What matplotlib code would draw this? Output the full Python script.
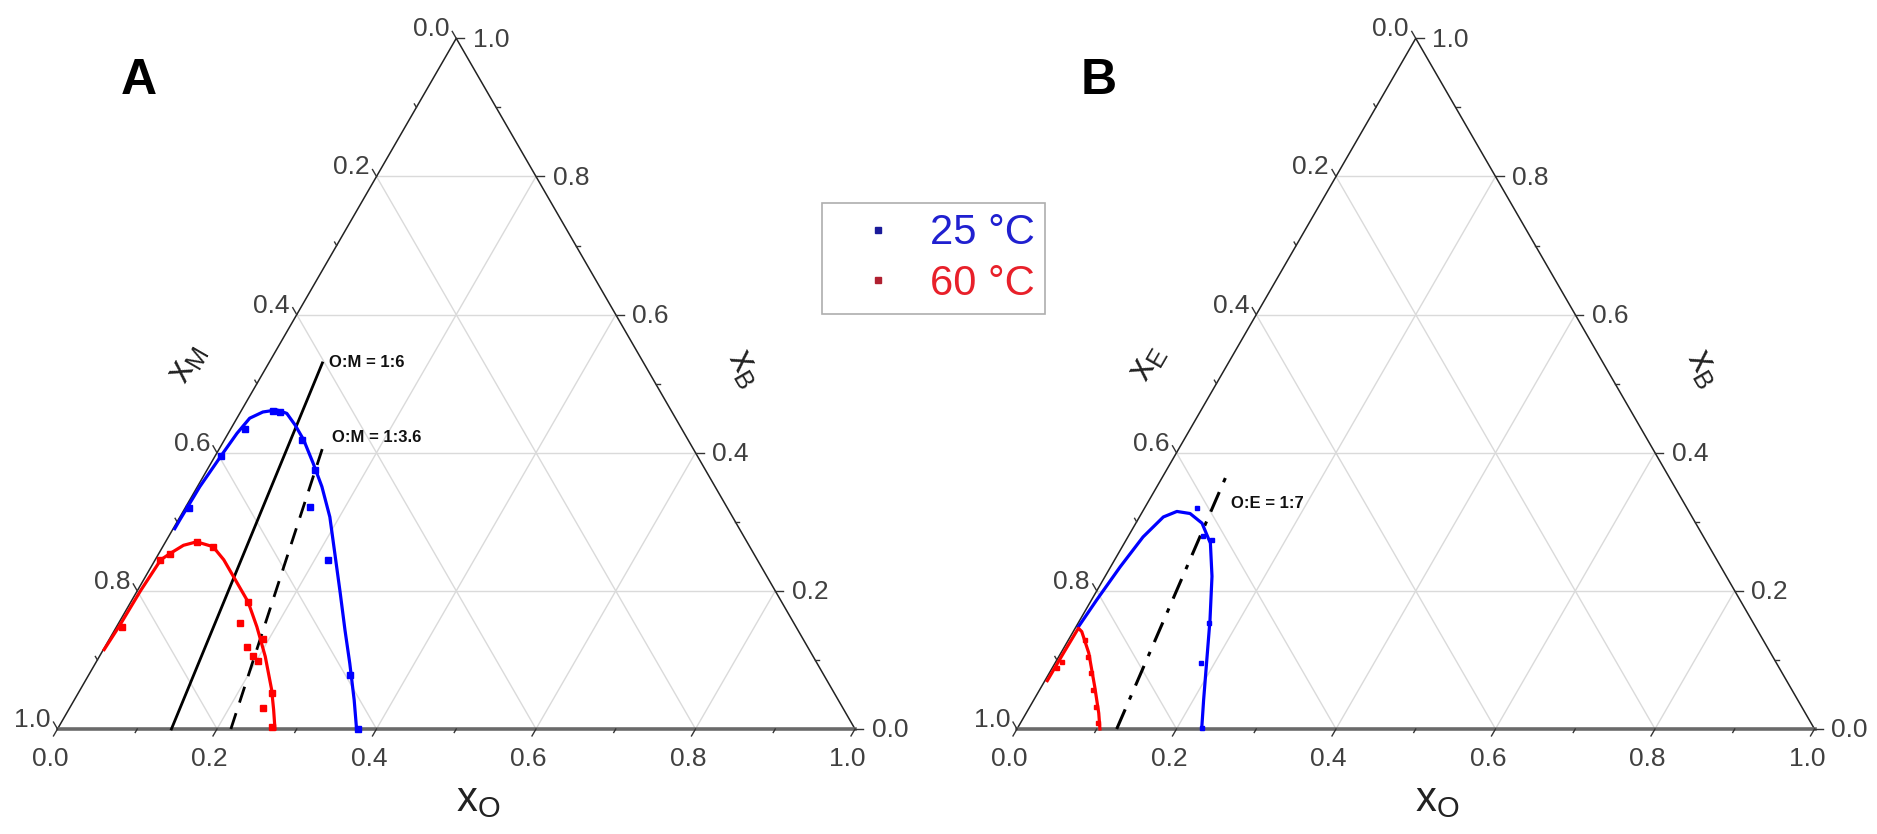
import numpy as np
import matplotlib.pyplot as plt
from matplotlib.lines import Line2D

plt.rcParams['font.family'] = ['Liberation Sans', 'DejaVu Sans']
plt.rcParams['mathtext.fontset'] = 'custom'
plt.rcParams['mathtext.rm'] = 'Liberation Sans'

SQ = np.sqrt(3) / 2
S = 797.5  # pixels per unit of triangle side

# ---------------- data (mole fractions: x_O, x_B ; third = 1 - x_O - x_B)
# panel A: octanoic acid (O) / menthol (M) / B
a25_curve_xo = [0.002, 0.002, 0.003, 0.0075, 0.011, 0.016, 0.028, 0.044, 0.059, 0.078,
                0.099, 0.128, 0.156, 0.188, 0.222, 0.256, 0.289, 0.319, 0.351, 0.375]
a25_curve_xb = [0.290, 0.303, 0.351, 0.397, 0.428, 0.450, 0.459, 0.462, 0.457, 0.440,
                0.419, 0.385, 0.351, 0.307, 0.252, 0.197, 0.143, 0.095, 0.042, 0.0]
a25_pts_xo = [0.005, 0.008, 0.017, 0.040, 0.050, 0.098, 0.135, 0.155, 0.217, 0.328, 0.377]
a25_pts_xb = [0.320, 0.395, 0.435, 0.460, 0.459, 0.418, 0.375, 0.322, 0.245, 0.078, 0.0]

a60_curve_xo = [0.001, 0.003, 0.004, 0.007, 0.014, 0.025, 0.039, 0.063, 0.086, 0.115,
                0.147, 0.176, 0.208, 0.240, 0.257, 0.2727]
a60_curve_xb = [0.115, 0.150, 0.200, 0.245, 0.254, 0.266, 0.271, 0.264, 0.245, 0.216,
                0.184, 0.148, 0.105, 0.057, 0.028, 0.0]
a60_pts_xo = [0.0065, 0.006, 0.014, 0.039, 0.063, 0.147, 0.152, 0.178, 0.192, 0.193,
              0.203, 0.243, 0.243, 0.268]
a60_pts_xb = [0.148, 0.245, 0.254, 0.271, 0.264, 0.184, 0.153, 0.119, 0.131, 0.105,
              0.098, 0.052, 0.030, 0.003]

# panel B: octanoic acid (O) / E / B
b25_curve_xo = [0.003, 0.0065, 0.012, 0.019, 0.030, 0.043, 0.061, 0.083, 0.108, 0.134,
                0.163, 0.188, 0.213, 0.2316]
b25_curve_xb = [0.148, 0.187, 0.235, 0.278, 0.307, 0.315, 0.312, 0.298, 0.269, 0.221,
                0.158, 0.100, 0.042, 0.0]
b25_pts_xo = [0.0656, 0.0931, 0.1073, 0.1647, 0.1828, 0.2314]
b25_pts_xb = [0.3195, 0.2795, 0.2737, 0.1530, 0.0951, 0.001]

b60_curve_xo = [0.003, 0.0033, 0.004, 0.0107, 0.035, 0.067, 0.091, 0.104]
b60_curve_xb = [0.070, 0.110, 0.146, 0.141, 0.110, 0.061, 0.023, 0.0]
b60_pts_xo = [0.0058, 0.0074, 0.0208, 0.0371, 0.0525, 0.0674, 0.0829, 0.0975]
b60_pts_xb = [0.0879, 0.0975, 0.1289, 0.1047, 0.0806, 0.0565, 0.0323, 0.0082]

# constant-ratio lines: (label, O part, other part, x_B at top end, style)
ratio_lines_a = [("O:M = 1:6", 1, 6, 0.53, '-'), ("O:M = 1:3.6", 1, 3.6, 0.406, '--')]
ratio_lines_b = [("O:E = 1:7", 1, 7, 0.365, '-.')]

ticks = [0.0, 0.2, 0.4, 0.6, 0.8, 1.0]
minor = [0.1, 0.3, 0.5, 0.7, 0.9]

BLUE = '#0000ff'
RED = '#ff0000'
TICKC = '#404040'


def tern(xo, xb):
    xo = np.asarray(xo, float)
    xb = np.asarray(xb, float)
    return xo + 0.5 * xb, SQ * xb


def setup(ax, left_px, width_px, origin_px):
    ax.set_position([left_px / 1877, 0, width_px / 1877, 1])
    ax.set_xlim((left_px - origin_px) / S, (left_px + width_px - origin_px) / S)
    ax.set_ylim(-(834 - 729) / S, 729 / S)
    ax.axis('off')


def frame(ax, left_name):
    # grid
    for g in [0.2, 0.4, 0.6, 0.8]:
        for (a, b) in [((0, g), (1 - g, g)), ((g, 0), (g, 1 - g)), ((1 - g, 0), (0, 1 - g))]:
            u, v = tern([a[0], b[0]], [a[1], b[1]])
            ax.plot(u, v, color='#dadada', lw=1.0, zorder=1)
    # edges
    ax.plot([0, 0.5, 1], [0, SQ, 0], color='#222222', lw=1.1, zorder=2)
    ax.plot([0, 1], [0, 0], color='#6a6a6a', lw=2.6, zorder=2)
    L = 8 / S
    l = 4 / S
    for t in ticks + minor:
        ln = L if t in ticks else l
        # bottom (x_O)
        ax.plot([t, t - 0.5 * ln], [0, -SQ * ln], color='#333', lw=1.0, zorder=2)
        # right (x_B)
        u, v = tern(1 - t, t)
        ax.plot([u, u + ln], [v, v], color='#333', lw=1.0, zorder=2)
        # left (x_M / x_E)
        u, v = tern(0, 1 - t)
        ax.plot([u, u - 0.5 * ln], [v, v + SQ * ln], color='#333', lw=1.0, zorder=2)
    for t in ticks:
        ax.annotate(f"{t:.1f}", (t, 0), xytext=(-5.5, -13), textcoords='offset points',
                    ha='center', va='top', fontsize=19, color=TICKC)
        u, v = tern(1 - t, t)
        ax.annotate(f"{t:.1f}", (u, v), xytext=(12, -1), textcoords='offset points',
                    ha='left', va='center', fontsize=19, color=TICKC)
        u, v = tern(0, 1 - t)
        ax.annotate(f"{t:.1f}", (u, v), xytext=(-5, 1.5), textcoords='offset points',
                    ha='right', va='baseline', fontsize=19, color=TICKC)
    ax.text(0.527, -0.089, r'$\mathregular{x_O}$', fontsize=30, ha='center', va='center',
            color='#222')
    ax.text(0.1624, 0.459, r'$\mathregular{x_%s}$' % left_name, fontsize=26, ha='center',
            va='center', rotation=60, color='#222')
    ax.text(0.862, 0.4527, r'$\mathregular{x_B}$', fontsize=26, ha='center', va='center',
            rotation=-60, color='#222')


def ratio(ax, lines, offsets):
    for (lab, po, pm, xb_top, ls), off in zip(lines, offsets):
        xb = np.array([0.0, xb_top])
        xo = (1 - xb) * po / (po + pm)
        u, v = tern(xo, xb)
        if ls == '--':
            ax.plot(u, v, color='k', lw=2.0, dashes=(6, 4), zorder=3)
        elif ls == '-.':
            ax.plot(u, v, color='k', lw=2.2, dashes=(7, 3.5, 1.5, 3.5), zorder=3)
        else:
            ax.plot(u, v, color='k', lw=2.0, zorder=3)
        ax.annotate(lab, (u[1], v[1]), xytext=off, textcoords='offset points',
                    ha='left', va='center', fontsize=12, fontweight='bold', color='#111')


fig = plt.figure(figsize=(18.77, 8.34), dpi=100)
fig.patch.set_facecolor('white')

axA = fig.add_axes([0, 0, 0.5, 1])
setup(axA, 0, 938, 57.5)
frame(axA, 'M')
ratio(axA, ratio_lines_a, [(5, 0), (7, 8)])
u, v = tern(a25_curve_xo, a25_curve_xb)
axA.plot(u, v, color=BLUE, lw=2.3, zorder=4)
u, v = tern(a25_pts_xo, a25_pts_xb)
axA.plot(u, v, 's', color=BLUE, ms=4.5, zorder=5)
u, v = tern(a60_curve_xo, a60_curve_xb)
axA.plot(u, v, color=RED, lw=2.3, zorder=4)
u, v = tern(a60_pts_xo, a60_pts_xb)
axA.plot(u, v, 's', color=RED, ms=4.5, zorder=5)
axA.text(0.102, 0.8125, 'A', fontsize=36, fontweight='bold', ha='center', va='center')

axB = fig.add_axes([0.5, 0, 0.5, 1])
setup(axB, 938, 939, 1017)
frame(axB, 'E')
ratio(axB, ratio_lines_b, [(4, -19)])
u, v = tern(b25_curve_xo, b25_curve_xb)
axB.plot(u, v, color=BLUE, lw=2.3, zorder=4)
u, v = tern(b25_pts_xo, b25_pts_xb)
axB.plot(u, v, 's', color=BLUE, ms=3, zorder=5)
u, v = tern(b60_curve_xo, b60_curve_xb)
axB.plot(u, v, color=RED, lw=2.3, zorder=4)
u, v = tern(b60_pts_xo, b60_pts_xb)
axB.plot(u, v, 's', color=RED, ms=3, zorder=5)
axB.text(0.102, 0.8125, 'B', fontsize=36, fontweight='bold', ha='center', va='center')

handles = [Line2D([], [], ls='none', marker='s', ms=5, color='#1a1a9a'),
           Line2D([], [], ls='none', marker='s', ms=5, color='#b02030')]
leg = fig.legend(handles, ['25 °C', '60 °C'], loc='upper left',
                 bbox_to_anchor=(821.7 / 1877, 1 - 203 / 834), fontsize=30,
                 frameon=True, fancybox=False, edgecolor='#9a9a9a', borderpad=0.25,
                 handlelength=2.2, handletextpad=0.15, labelspacing=0.25,
                 borderaxespad=0)
leg.get_frame().set_linewidth(1.2)
for txt, c in zip(leg.get_texts(), ['#2020d0', '#e8202a']):
    txt.set_color(c)

plt.savefig('out.png', dpi=100)
